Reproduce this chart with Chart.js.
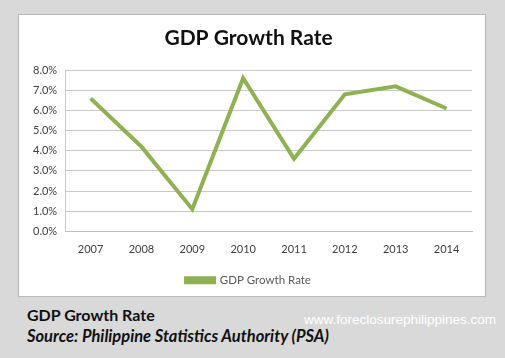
<!DOCTYPE html>
<html>
<head>
<meta charset="utf-8">
<script src="https://cdn.jsdelivr.net/npm/chart.js@4"></script>
<style>
  body { margin: 0; width: 505px; height: 358px; background: #d9d9d9; position: relative; overflow: hidden; font-family: Lato, "Open Sans", sans-serif; }
  #box { position: absolute; left: 18px; top: 14px; width: 468px; height: 283px; background: #fff; border: 1px solid #b8b8b8; box-sizing: border-box; }
  #box canvas { display: block; }
  #cap1 { position: absolute; left: 27px; top: 305px; font-size: 16px; font-weight: bold; color: #111; }
  #cap2 { position: absolute; left: 27px; top: 326px; font-size: 16.5px; font-style: italic; font-weight: bold; color: #111; }
  #mark { position: absolute; left: 304px; top: 312px; font-family: "Liberation Sans", Arial, sans-serif; font-size: 13.5px; color: #fff; }
</style>
</head>
<body>
<div id="box"><canvas id="graficoPIB" width="466" height="281"></canvas></div>
<div id="cap1">GDP Growth Rate</div>
<div id="cap2">Source: Philippine Statistics Authority (PSA)</div>
<div id="mark">www.foreclosurephilippines.com</div>
<script>
// ======== DADOS =========
const anos = ['2007', '2008', '2009', '2010', '2011', '2012', '2013', '2014'];
const crescimento = [6.6, 4.2, 1.1, 7.6, 3.6, 6.8, 7.2, 6.1];

// ======== GRÁFICO =========
const ctx = document.getElementById('graficoPIB');
new Chart(ctx, {
  type: 'line',
  data: {
    labels: anos,
    datasets: [{
      label: 'GDP Growth Rate',
      data: crescimento,
      borderColor: '#8fb153',
      backgroundColor: '#8fb153',
      borderWidth: 4,
      pointRadius: 0,
      tension: 0,
      fill: false
    }]
  },
  options: {
    responsive: false,
    animation: false,
    layout: { padding: { left: 6, right: 13, top: 0, bottom: 0 } },
    plugins: {
      title: {
        display: true,
        text: 'GDP Growth Rate',
        font: { family: 'Lato', size: 21, weight: 'bold' },
        color: '#111',
        padding: { top: 11, bottom: 19 }
      },
      legend: {
        display: true,
        position: 'bottom',
        labels: {
          boxWidth: 28,
          boxHeight: 4,
          font: { family: 'Lato', size: 11.5 },
          color: '#595959',
          padding: 14
        }
      },
      tooltip: { enabled: false }
    },
    scales: {
      x: {
        offset: true,
        grid: { display: false },
        border: { color: '#bfbfbf' },
        ticks: { font: { family: 'Lato', size: 11 }, color: '#404040', padding: 4, maxRotation: 0 }
      },
      y: {
        min: 0,
        max: 8,
        ticks: {
          stepSize: 1,
          font: { family: 'Lato', size: 11 },
          color: '#404040',
          padding: 8,
          callback: v => v.toFixed(1) + '%'
        },
        grid: { color: '#c8c8c8', drawTicks: false },
        border: { color: '#c8c8c8' }
      }
    }
  }
});
</script>
</body>
</html>
